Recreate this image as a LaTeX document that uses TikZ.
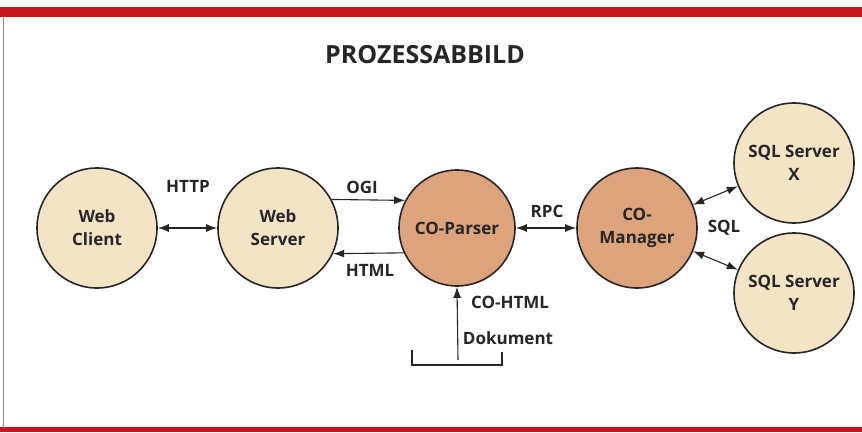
\documentclass[tikz,border=0pt]{standalone}
\usepackage{fontspec}
\setmainfont{Open Sans}
\usetikzlibrary{arrows.meta}
\definecolor{barred}{RGB}{200,22,30}
\definecolor{lightbeige}{RGB}{243,228,198}
\definecolor{darkbeige}{RGB}{220,163,124}
\tikzset{
	proc/.style={circle, draw=black!85, line width=1.6pt, minimum size=120pt, inner sep=0pt, align=center, font=\fontsize{17}{23}\selectfont\bfseries, text=black!85},
	lbl/.style={font=\fontsize{17}{23}\selectfont\bfseries, text=black!85},
	conn/.style={line width=1.1pt, draw=black!85, -{Latex[length=11pt,width=8pt]}},
	biconn/.style={line width=1.1pt, draw=black!85, {Latex[length=11pt,width=8pt]}-{Latex[length=11pt,width=8pt]}}
}

\begin{document}
\begin{tikzpicture}[x=1pt, y=1pt]
			%%%%% START %%%%%
			
			\useasboundingbox (0, 0) rectangle (862, 432);
			
			\fill[barred] (0, 415) rectangle (862, 425);
			\fill[barred] (0, 0) rectangle (862, 5);
			\draw[line width=0.8pt, color=black!45] (3, 5) -- (3, 415);
			
			\node[lbl, font=\fontsize{25}{28}\selectfont\bfseries] (title) at (425, 377) {PROZESSABBILD};
			
			\node[proc, fill=lightbeige] (client) at (97, 204) {Web\\Client};
			\node[proc, fill=lightbeige] (wserver) at (278, 204) {Web\\Server};
			\node[proc, fill=darkbeige, minimum size=116pt] (parser) at (457, 204) {CO-Parser};
			\node[proc, fill=darkbeige] (manager) at (637, 204) {CO-\\Manager};
			\node[proc, fill=lightbeige] (sqlx) at (794, 269) {SQL Server\\X};
			\node[proc, fill=lightbeige] (sqly) at (794, 139) {SQL Server\\Y};
			
			\draw[biconn] (client) -- (wserver);
			\node[lbl] (http) at (188, 246) {HTTP};
			
			\draw[conn] (wserver.28) -- (parser.152);
			\node[lbl] (ogi) at (362, 245) {OGI};
			\draw[conn] (parser.205) -- (wserver.-25);
			\node[lbl] (html) at (370, 162) {HTML};
			
			\draw[biconn] (parser) -- (manager);
			\node[lbl] (rpc) at (547, 221) {RPC};
			
			\draw[biconn] (manager) -- (sqlx);
			\draw[biconn] (manager) -- (sqly);
			\node[lbl] (sql) at (724, 204) {SQL};
			
			\coordinate (doc) at (458, 72);
			\draw[conn] (doc) -- (parser.south);
			\node[lbl] (cohtml) at (510, 130) {CO-HTML};
			\node[lbl] (dokument) at (508, 94) {Dokument};
			
			\coordinate (brl) at (412, 82);
			\coordinate (brr) at (502, 80);
			\draw[line width=1.1pt, color=black!85] (brl) |- (458, 67) -| (brr);
			
			%%%%% END %%%%%
\end{tikzpicture}
\end{document}
